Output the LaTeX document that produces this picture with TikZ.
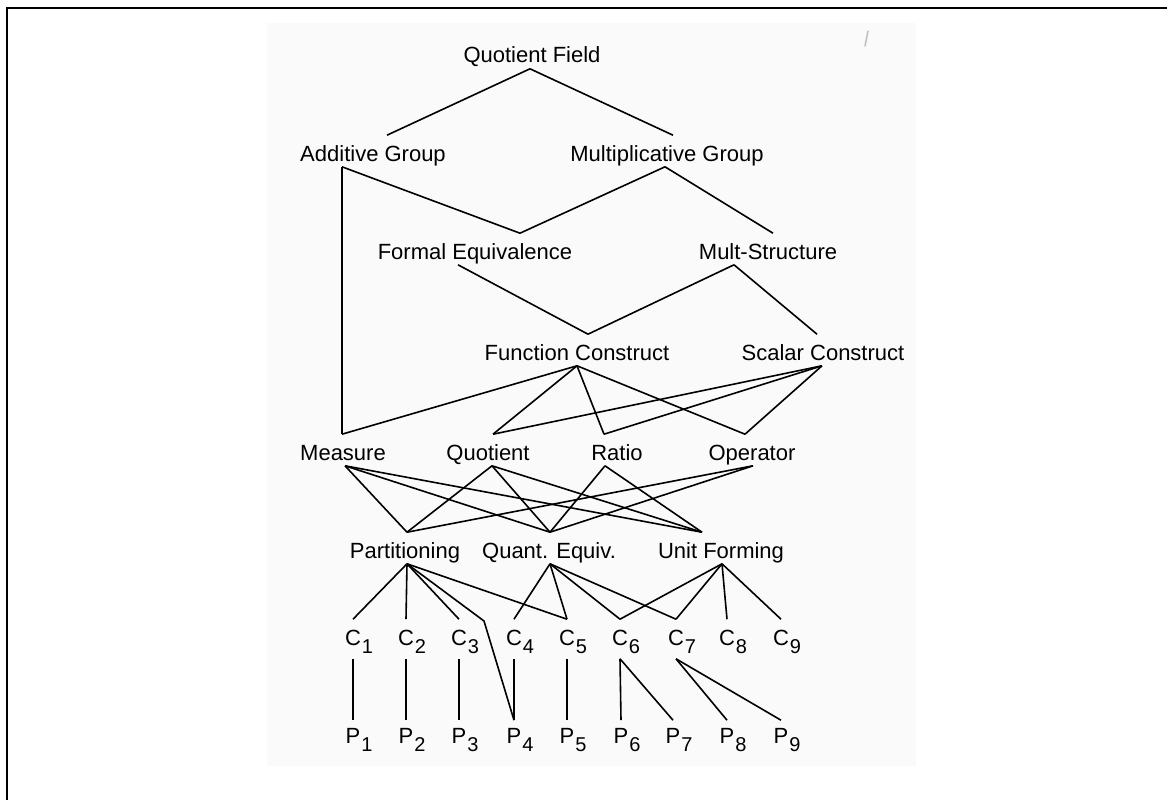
\documentclass[tikz,border=0pt]{standalone}
\usepackage{fontspec}
\setmainfont{Liberation Sans}
\newcommand{\subidx}[2]{#1\rlap{\kern1pt\raisebox{-8pt}{\fontsize{20}{20}\selectfont #2}}}

\begin{document}
\begin{tikzpicture}[x=1pt,y=-1pt,line width=1.6pt,font=\fontsize{22}{26}\selectfont,
	lbl/.style={inner sep=0pt,text height=25pt,text depth=5pt},
	cnode/.style={inner sep=0pt,text height=25pt,text depth=13pt},
	pnode/.style={inner sep=0pt,text height=22pt,text depth=8pt}]
	\useasboundingbox (0,0) rectangle (1167,800);
	%frame and page
	\fill[black!2] (267,23) rectangle (916,766); %scanned page
	\draw[line width=2pt] (7,800) -- (7,8) -- (1167,8); %frame
	\draw[black!25,line width=1.5pt,line cap=round] (868,31) -- (865,46); %speck

	%structures
		\node[lbl] (qf) at (532,53) {Quotient Field};
		\node[lbl] (ag) at (373,151) {Additive Group};
		\node[lbl] (mg) at (667,151) {Multiplicative Group};
		\node[lbl] (fe) at (475,249) {Formal Equivalence};
		\node[lbl] (ms) at (768,249) {Mult-Structure};
		\node[lbl] (fc) at (577,350) {Function Construct};
		\node[lbl] (sc) at (823,350) {Scalar Construct};

	%subconstructs
		\node[lbl] (me) at (343,450) {Measure};
		\node[lbl] (qu) at (488,450) {Quotient};
		\node[lbl] (ra) at (617,450) {Ratio};
		\node[lbl] (op) at (752,450) {Operator};
		\node[lbl] (pa) at (405,548) {Partitioning};
		\node[lbl] (qe) at (549,548) {Quant. Equiv.};
		\node[lbl] (uf) at (721,548) {Unit Forming};

	%C and P rows
		\node[cnode] (c1) at (353,639) {\subidx{C}{1}};
		\node[cnode] (c2) at (406,639) {\subidx{C}{2}};
		\node[cnode] (c3) at (459,639) {\subidx{C}{3}};
		\node[cnode] (c4) at (514,639) {\subidx{C}{4}};
		\node[cnode] (c5) at (567,639) {\subidx{C}{5}};
		\node[cnode] (c6) at (620,639) {\subidx{C}{6}};
		\node[cnode] (c7) at (676,639) {\subidx{C}{7}};
		\node[cnode] (c8) at (727,639) {\subidx{C}{8}};
		\node[cnode] (c9) at (781,639) {\subidx{C}{9}};
		\node[pnode] (p1) at (353,736) {\subidx{P}{1}};
		\node[pnode] (p2) at (406,736) {\subidx{P}{2}};
		\node[pnode] (p3) at (459,736) {\subidx{P}{3}};
		\node[pnode] (p4) at (514,736) {\subidx{P}{4}};
		\node[pnode] (p5) at (567,736) {\subidx{P}{5}};
		\node[pnode] (p6) at (621,736) {\subidx{P}{6}};
		\node[pnode] (p7) at (673,736) {\subidx{P}{7}};
		\node[pnode] (p8) at (727,736) {\subidx{P}{8}};
		\node[pnode] (p9) at (781,736) {\subidx{P}{9}};
		\coordinate (kink) at (484,621); %bend of the line to P4

	%upper lines
		\draw ([xshift=-2pt]qf.south) -- ([xshift=14pt]ag.north); %field to additive
		\draw ([xshift=-2pt]qf.south) -- ([xshift=6pt]mg.north); %field to multiplicative
		\draw ([xshift=-31pt]ag.south) -- ([xshift=-1pt]me.north); %additive to measure
		\draw ([xshift=-31pt]ag.south) -- ([xshift=45pt]fe.north); %additive to formal
		\draw ([xshift=-2pt]mg.south) -- ([xshift=45pt]fe.north); %multiplicative to formal
		\draw ([xshift=-2pt]mg.south) -- ([xshift=5pt]ms.north); %multiplicative to mult-structure
		\draw ([xshift=-17pt]fe.south) -- ([xshift=11pt]fc.north); %formal to function
		\draw ([xshift=-34pt]ms.south) -- ([xshift=11pt]fc.north); %mult-structure to function
		\draw ([xshift=-34pt]ms.south) -- ([xshift=-6pt]sc.north); %mult-structure to scalar

	%constructs to subconstructs
		\draw (fc.south) -- ([xshift=-1pt]me.north); %function to measure
		\draw (fc.south) -- ([xshift=5pt]qu.north); %function to quotient
		\draw (fc.south) -- ([xshift=-13pt]ra.north); %function to ratio
		\draw (fc.south) -- ([xshift=-7pt]op.north); %function to operator
		\draw ([xshift=-1pt]sc.south) -- ([xshift=5pt]qu.north); %scalar to quotient
		\draw ([xshift=-1pt]sc.south) -- ([xshift=-13pt]ra.north); %scalar to ratio
		\draw ([xshift=-1pt]sc.south) -- ([xshift=-7pt]op.north); %scalar to operator

	%subconstructs to mechanisms
		\draw ([xshift=2pt]me.south) -- ([xshift=2pt]pa.north); %measure
		\draw ([xshift=2pt]me.south) -- ([xshift=1pt]qe.north);
		\draw ([xshift=2pt]me.south) -- ([xshift=-19pt]uf.north);
		\draw ([xshift=4pt]qu.south) -- ([xshift=2pt]pa.north); %quotient
		\draw ([xshift=4pt]qu.south) -- ([xshift=1pt]qe.north);
		\draw ([xshift=4pt]qu.south) -- ([xshift=-19pt]uf.north);
		\draw ([xshift=-12pt]ra.south) -- ([xshift=1pt]qe.north); %ratio
		\draw ([xshift=-12pt]ra.south) -- ([xshift=-19pt]uf.north);
		\draw ([xshift=1pt]op.south) -- ([xshift=2pt]pa.north); %operator
		\draw ([xshift=1pt]op.south) -- ([xshift=1pt]qe.north);

	%mechanisms to C
		\draw ([xshift=2pt]pa.south) -- (c1.north); %partitioning
		\draw ([xshift=2pt]pa.south) -- (c2.north);
		\draw ([xshift=2pt]pa.south) -- (c3.north);
		\draw ([xshift=2pt]pa.south) -- (kink) -- (p4.north);
		\draw ([xshift=2pt]pa.south) -- (c5.north);
		\draw ([xshift=1pt]qe.south) -- (c4.north); %quant. equiv.
		\draw ([xshift=1pt]qe.south) -- (c5.north);
		\draw ([xshift=1pt]qe.south) -- (c6.north);
		\draw ([xshift=1pt]qe.south) -- (c7.north);
		\draw ([xshift=1pt]uf.south) -- (c6.north); %unit forming
		\draw ([xshift=1pt]uf.south) -- (c7.north);
		\draw ([xshift=1pt]uf.south) -- (c8.north);
		\draw ([xshift=1pt]uf.south) -- (c9.north);

	%C to P
		\draw (c1.south) -- (p1.north);
		\draw (c2.south) -- (p2.north);
		\draw (c3.south) -- (p3.north);
		\draw (c4.south) -- (p4.north);
		\draw (c5.south) -- (p5.north);
		\draw (c6.south) -- (p6.north);
		\draw (c6.south) -- (p7.north);
		\draw (c7.south) -- (p8.north);
		\draw (c7.south) -- (p9.north);
\end{tikzpicture}
\end{document}
